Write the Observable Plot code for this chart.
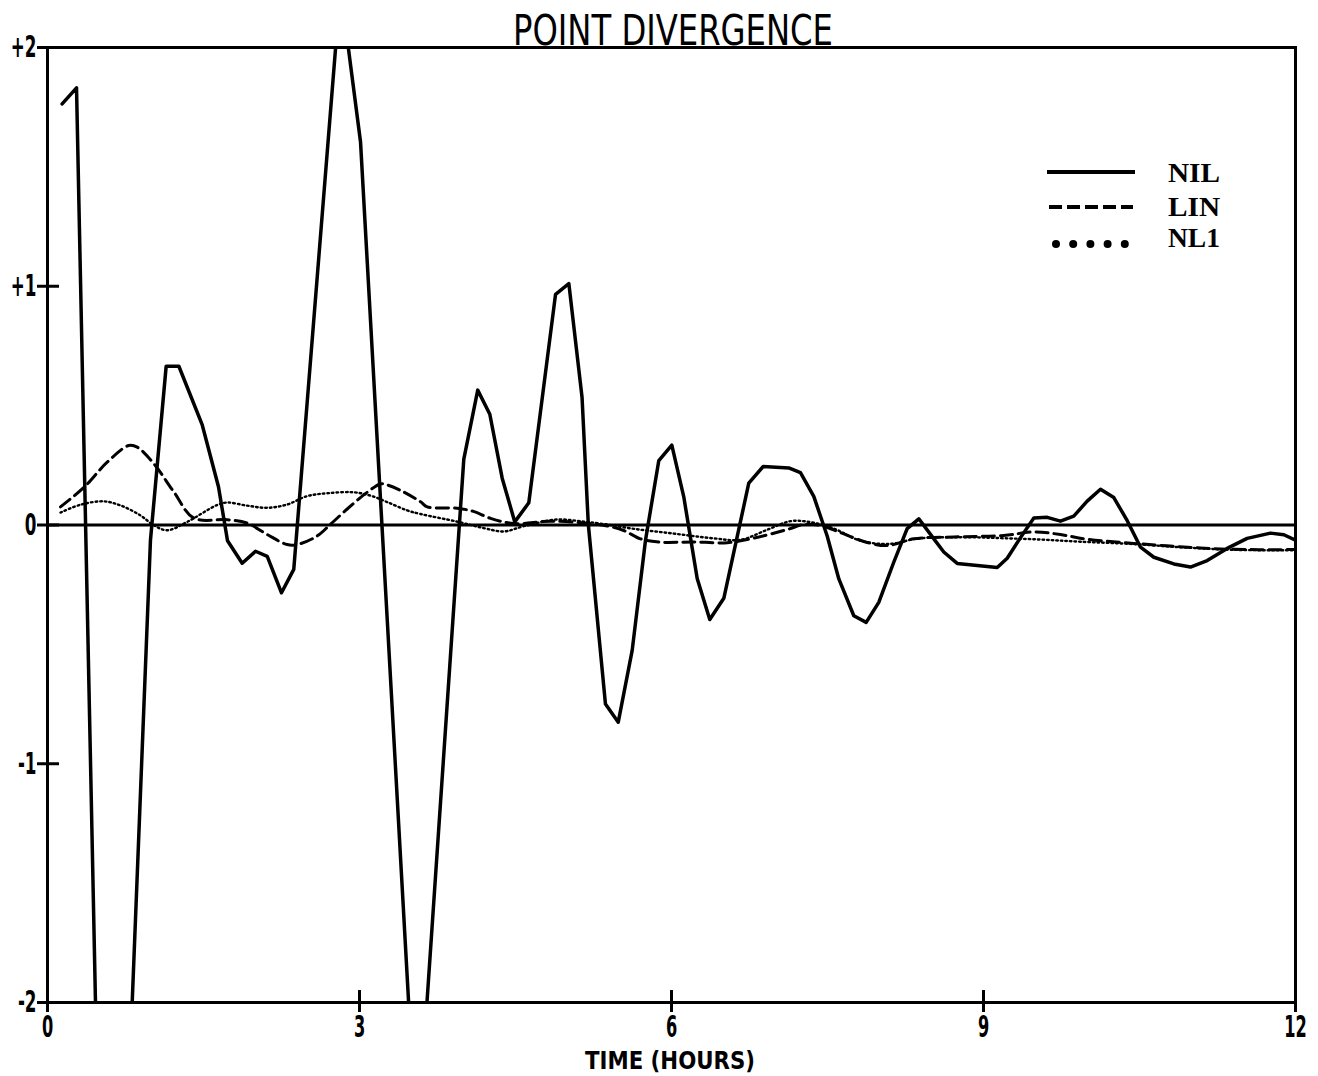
<!DOCTYPE html>
<html><head><meta charset="utf-8">
<script src="https://cdn.jsdelivr.net/npm/d3@7"></script>
<script src="https://cdn.jsdelivr.net/npm/@observablehq/plot@0.6"></script>
<style>
body{margin:0;background:#fff;}
#wrap{position:relative;width:1318px;height:1076px;overflow:hidden;}
#overlay{position:absolute;left:0;top:0;pointer-events:none;}
</style></head><body><div id="wrap"></div>
<script>
// ---- data (time in hours, point divergence) ----
const seriesNames = ["NIL", "LIN", "NL1"];
const xTicks = [0, 3, 6, 9, 12];
const yTicks = [-2, -1, 0, 1, 2];
const yTickLabels = ["-2", "-1", "0", "+1", "+2"];

const nilT = [0.141,0.279,0.583,0.99,1.141,1.263,1.488,1.644,1.731,1.872,2.0,2.113,2.25,2.368,2.817,3.01,3.552,4.003,4.137,4.253,4.372,4.493,4.628,4.885,5.013,5.14,5.2,5.365,5.488,5.622,5.75,5.878,6.003,6.118,6.247,6.368,6.503,6.743,6.882,7.128,7.24,7.368,7.497,7.609,7.753,7.872,7.993,8.137,8.266,8.378,8.519,8.618,8.747,9.132,9.228,9.356,9.484,9.613,9.74,9.868,9.997,10.125,10.253,10.382,10.51,10.638,10.83,10.99,11.151,11.343,11.535,11.76,11.888,12.0];
const nilV = [1.764,1.831,-4.55,-0.064,0.665,0.665,0.419,0.16,-0.066,-0.16,-0.11,-0.131,-0.284,-0.186,2.253,1.604,-2.62,0.276,0.565,0.464,0.196,0.013,0.093,0.966,1.011,0.534,0.003,-0.75,-0.826,-0.525,-0.064,0.27,0.335,0.118,-0.224,-0.396,-0.307,0.175,0.245,0.239,0.219,0.12,-0.046,-0.226,-0.38,-0.408,-0.324,-0.156,-0.015,0.026,-0.056,-0.113,-0.161,-0.178,-0.139,-0.053,0.029,0.032,0.016,0.037,0.1,0.15,0.115,0.018,-0.093,-0.135,-0.163,-0.176,-0.149,-0.098,-0.056,-0.034,-0.041,-0.064];

const linT = [0.125,0.349,0.574,0.782,0.863,1.022,1.214,1.407,1.728,1.92,2.113,2.305,2.401,2.593,2.721,2.882,3.074,3.202,3.266,3.394,3.587,3.651,3.94,4.096,4.26,4.484,4.837,5.221,5.382,5.541,5.702,5.894,6.214,6.536,6.791,7.113,7.272,7.433,7.625,7.882,8.074,8.33,8.715,9.195,9.484,9.74,9.997,10.445,10.926,11.407,11.984];
const linV = [0.076,0.157,0.263,0.333,0.326,0.257,0.139,0.029,0.022,0.008,-0.04,-0.082,-0.082,-0.046,0.003,0.067,0.137,0.172,0.168,0.145,0.097,0.076,0.07,0.057,0.028,0.006,0.016,0.006,-0.004,-0.023,-0.058,-0.072,-0.071,-0.074,-0.055,-0.019,0.002,-0.002,-0.032,-0.073,-0.086,-0.058,-0.05,-0.044,-0.029,-0.04,-0.06,-0.077,-0.092,-0.102,-0.103];

const nl1T = [0.125,0.317,0.541,0.702,0.894,1.022,1.151,1.343,1.632,1.728,1.92,2.113,2.305,2.497,2.689,2.945,3.106,3.266,3.459,3.587,3.94,4.195,4.388,4.58,4.901,5.157,5.317,5.638,6.022,6.407,6.663,6.92,7.144,7.337,7.561,7.817,8.106,8.363,8.779,9.163,9.548,9.933,10.445,10.926,11.407,11.984];
const nl1V = [0.052,0.085,0.099,0.082,0.04,-0.001,-0.022,0.013,0.084,0.094,0.081,0.072,0.086,0.121,0.133,0.137,0.123,0.096,0.061,0.046,0.014,-0.013,-0.027,-0.005,0.023,0.014,0.006,-0.016,-0.036,-0.056,-0.062,-0.02,0.016,0.012,-0.015,-0.066,-0.079,-0.057,-0.051,-0.055,-0.061,-0.07,-0.08,-0.094,-0.104,-0.106];

const zip = (T, V) => T.map((t, i) => ({t, v: V[i]}));
const nil = zip(nilT, nilV), lin = zip(linT, linV), nl1 = zip(nl1T, nl1V);

// ---- layout ----
const W = 1318, H = 1076, mL = 47, mR = 23, mT = 47, mB = 74;
const innerW = W - mL - mR, innerH = H - mT - mB, inTick = 12;
const sansC = "'DejaVu Sans Condensed','Liberation Sans Narrow','DejaVu Sans',sans-serif";

const plot = Plot.plot({
  width: W, height: H,
  marginLeft: mL, marginRight: mR, marginTop: mT, marginBottom: mB,
  x: {domain: [0, 12]},
  y: {domain: [-2, 2]},
  style: {fontFamily: sansC, fontSize: "30px", color: "#000", background: "#fff", overflow: "visible"},
  marks: [
    Plot.frame({stroke: "#000", strokeWidth: 3}),
    Plot.ruleY([0], {stroke: "#000", strokeWidth: 3}),
    Plot.axisX({ticks: xTicks, tickSize: 10, tickPadding: 2, tickFormat: d => String(d), label: null, strokeWidth: 3}),
    Plot.tickX(xTicks, {x: d => d, insetTop: innerH - inTick, stroke: "#000", strokeWidth: 3}),
    Plot.axisY({ticks: yTicks, tickSize: 10, tickPadding: 1, tickFormat: d => yTickLabels[yTicks.indexOf(d)], label: null, strokeWidth: 3}),
    Plot.tickY(yTicks, {y: d => d, insetRight: innerW - inTick, stroke: "#000", strokeWidth: 3}),
    Plot.line(nl1, {x: "t", y: "v", curve: "catmull-rom", stroke: "#000", strokeWidth: 2.4, strokeDasharray: "1.6,3", clip: true}),
    Plot.line(lin, {x: "t", y: "v", curve: "catmull-rom", stroke: "#000", strokeWidth: 3, strokeDasharray: "12,6", clip: true}),
    Plot.line(nil, {x: "t", y: "v", stroke: "#000", strokeWidth: 3.5, strokeLinejoin: "round", clip: true})
  ]
});

// plotter-like condensed tick labels
function condense(selector, size, sx) {
  d3.select(plot).selectAll(selector)
    .style("font-size", size + "px").style("font-weight", "bold")
    .each(function() {
      const t = this.getAttribute("transform") || "";
      this.setAttribute("transform", t + ` scale(${sx},1)`);
    });
}
condense('g[aria-label="x-axis tick label"] text', 31, 0.58);
condense('g[aria-label="y-axis tick label"] text', 31, 0.6);

const wrap = document.getElementById("wrap");
wrap.appendChild(plot);

// ---- overlay: title, x label, legend ----
const ov = d3.select(wrap).append("svg").attr("id", "overlay").attr("width", W).attr("height", H);
ov.append("text").text("POINT  DIVERGENCE")
  .attr("x", 513).attr("y", 45).attr("textLength", 320).attr("lengthAdjust", "spacingAndGlyphs")
  .style("font-family", sansC).style("font-size", "43px").attr("fill", "#000");
ov.append("text").text("TIME (HOURS)")
  .attr("x", 585).attr("y", 1069).attr("textLength", 170).attr("lengthAdjust", "spacingAndGlyphs")
  .style("font-family", sansC).style("font-size", "25px").style("font-weight", "bold").attr("fill", "#000");

const legY = [172, 207, 244], legTextY = [182, 216, 247];
seriesNames.forEach((name, i) => {
  const g = ov.append("g");
  if (i === 0) {
    g.append("line").attr("x1", 1047).attr("x2", 1135).attr("y1", legY[i]).attr("y2", legY[i]).attr("stroke", "#000").attr("stroke-width", 4);
  } else if (i === 1) {
    g.append("line").attr("x1", 1049).attr("x2", 1133).attr("y1", legY[i]).attr("y2", legY[i]).attr("stroke", "#000").attr("stroke-width", 4).attr("stroke-dasharray", "13,5");
  } else {
    for (let k = 0; k < 5; k++) g.append("circle").attr("cx", 1056 + 17.2 * k).attr("cy", legY[i]).attr("r", 4).attr("fill", "#000");
  }
  g.append("text").text(name).attr("x", 1168).attr("y", legTextY[i]).attr("textLength", 52).attr("lengthAdjust", "spacingAndGlyphs")
    .style("font-family", "'Liberation Serif','DejaVu Serif',serif").style("font-weight", "bold").style("font-size", "27px").attr("fill", "#000");
});
</script>
</body></html>
